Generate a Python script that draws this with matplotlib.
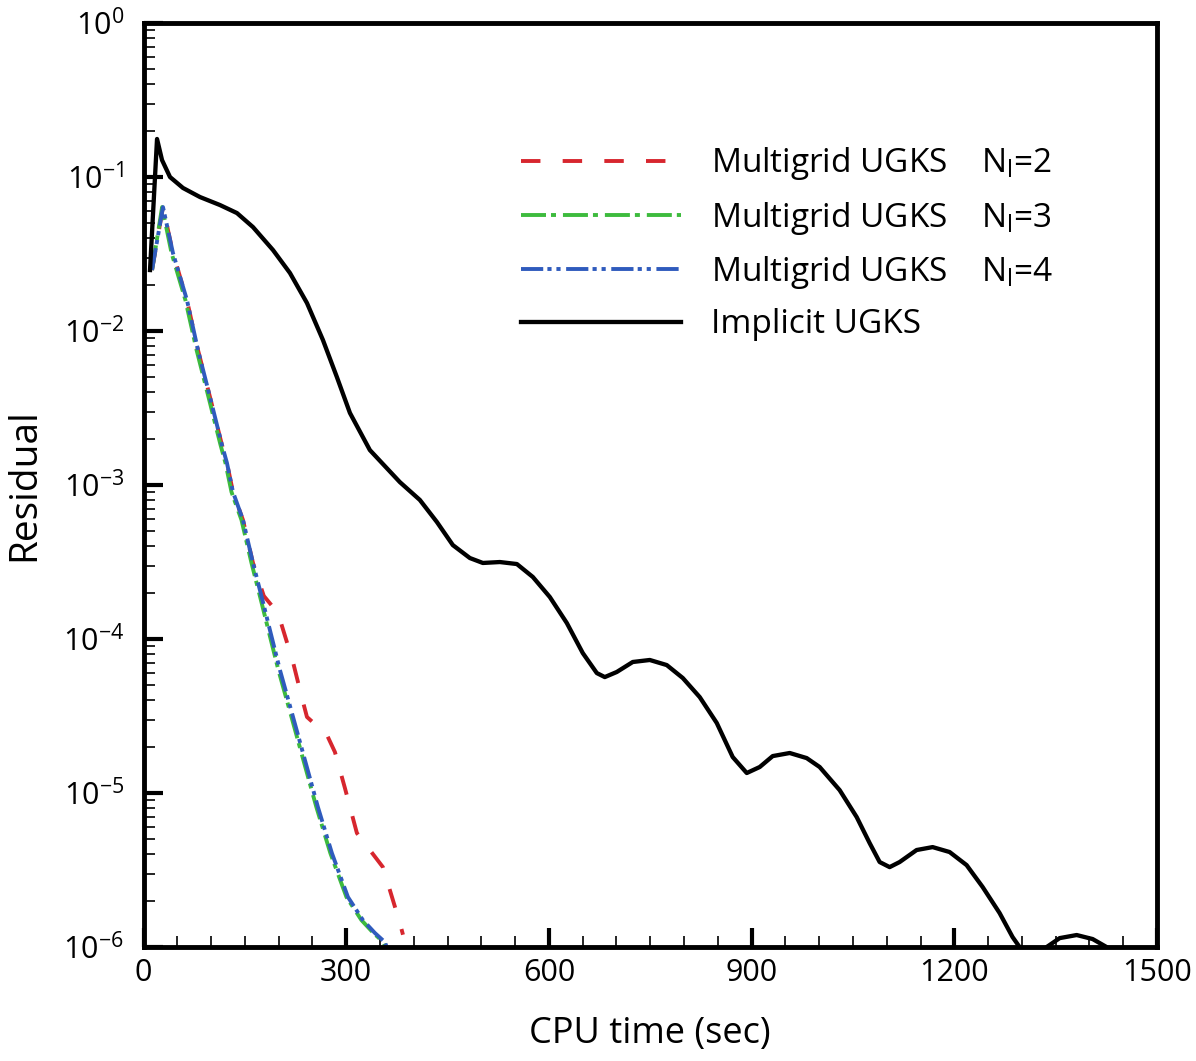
import numpy as np
import matplotlib
matplotlib.use("Agg")
import matplotlib.pyplot as plt
from matplotlib.ticker import FixedLocator, NullFormatter, LogFormatterMathtext

plt.rcParams["font.family"] = ["Open Sans", "DejaVu Sans"]
plt.rcParams["mathtext.default"] = "regular"
plt.rcParams["axes.unicode_minus"] = False
plt.rcParams["lines.scale_dashes"] = False

# ---- data (CPU time in sec, log10 of residual) ----
implicit_t = [9.6, 20, 27.4, 39.2, 58.4, 83.6, 113.2, 138.3, 162, 191.6, 216.7, 241.9,
              265.5, 286.2, 305.5, 335, 379.4, 409, 434.2, 457.8, 483, 502.2, 527.4,
              552.6, 576.2, 601.3, 626.5, 650.1, 670.9, 682.7, 700.4, 724.1, 749.3,
              774.4, 798.1, 823.2, 848.4, 872.0, 892.8, 912, 931.2, 956.4, 981.5,
              1000.7, 1030.3, 1055.5, 1074.7, 1089.5, 1104.3, 1119.1, 1144.2, 1167.9,
              1193.0, 1218.2, 1241.9, 1267.0, 1286.2, 1296.6, 1315.8, 1326, 1336.7,
              1355.9, 1381.1, 1404.7, 1425.4, 1444]
implicit_logr = [-1.604, -0.753, -0.890, -1.000, -1.071, -1.130, -1.182, -1.234, -1.325,
                 -1.474, -1.623, -1.818, -2.058, -2.299, -2.532, -2.773, -2.981, -3.097,
                 -3.240, -3.390, -3.474, -3.506, -3.500, -3.513, -3.597, -3.727, -3.896,
                 -4.091, -4.221, -4.247, -4.214, -4.149, -4.136, -4.169, -4.253, -4.377,
                 -4.545, -4.766, -4.870, -4.831, -4.760, -4.740, -4.773, -4.831, -4.981,
                 -5.156, -5.325, -5.448, -5.481, -5.448, -5.370, -5.351, -5.383, -5.468,
                 -5.610, -5.779, -5.935, -6.0, -6.08, -6.09, -6.0, -5.942, -5.922, -5.948,
                 -6.0, -6.08]

mg4_t = [12.6, 28.8, 43.6, 64.3, 80.6, 98.4, 108.7, 116.1, 123.5, 132.4, 147.2, 162,
         176.8, 187.1, 201.9, 219.7, 238.9, 258.1, 278.8, 302.5, 324.7, 342.5, 357.2, 360]
mg4_logr = [-1.604, -1.195, -1.494, -1.799, -2.123, -2.429, -2.610, -2.740, -2.857,
            -3.045, -3.227, -3.506, -3.760, -3.942, -4.201, -4.481, -4.786, -5.091,
            -5.390, -5.675, -5.825, -5.909, -5.968, -6.0]

mg3_t = [12.6, 27.5, 41.5, 62, 78.5, 96.2, 106.5, 114, 121.3, 130.2, 145, 159.8,
         174.5, 184.8, 199.6, 217.4, 236.6, 255.8, 276.5, 300.3, 322.5, 340.3, 355, 358]
mg3_logr = mg4_logr

mg2_t = [12.6, 28.8, 43.6, 64.3, 80.6, 98.4, 108.7, 116.1, 123.5, 132.4, 147.2, 162,
         178, 199.0, 221.2, 234.5, 241.9, 271.5, 283.3, 298.1, 315.8, 354.3, 379.4, 384]
mg2_logr = [-1.604, -1.195, -1.494, -1.799, -2.123, -2.429, -2.610, -2.740, -2.857,
            -3.045, -3.227, -3.506, -3.72, -3.831, -4.149, -4.383, -4.506, -4.623,
            -4.734, -4.968, -5.260, -5.481, -5.844, -5.92]

labels = ["Multigrid UGKS    N$_{l}$=2", "Multigrid UGKS    N$_{l}$=3",
          "Multigrid UGKS    N$_{l}$=4", "Implicit UGKS"]

fig = plt.figure(figsize=(11.96, 10.61), dpi=100)
ax = fig.add_axes([0.12, 0.1074, 0.8474, 0.8709])

ax.plot(mg2_t, 10 ** np.array(mg2_logr), color="#d7262e", lw=2.8, dashes=(14, 16), label=labels[0])
ax.plot(mg3_t, 10 ** np.array(mg3_logr), color="#3dbb3d", lw=2.8, dashes=(18, 3.6, 3.6, 5), label=labels[1])
ax.plot(mg4_t, 10 ** np.array(mg4_logr), color="#2f5bbd", lw=2.8,
        dashes=(16, 3, 3, 3.5, 3, 4), label=labels[2])
ax.plot(implicit_t, 10 ** np.array(implicit_logr), color="black", lw=3.1,
        solid_joinstyle="round", label=labels[3])

ax.set_yscale("log")
ax.set_xlim(0, 1500)
ax.set_ylim(1e-6, 1)
ax.xaxis.set_major_locator(FixedLocator(np.arange(0, 1501, 300)))
ax.xaxis.set_minor_locator(FixedLocator(np.arange(0, 1501, 50)))
decades = 10.0 ** np.arange(-6, 1)
ax.yaxis.set_major_locator(FixedLocator(decades))
ax.yaxis.set_major_formatter(LogFormatterMathtext())
ax.yaxis.set_minor_locator(FixedLocator(np.outer(decades[:-1], np.arange(2, 10)).ravel()))
ax.yaxis.set_minor_formatter(NullFormatter())

for s in ax.spines.values():
    s.set_linewidth(3.5)
ax.tick_params(which="major", direction="in", length=14, width=3, labelsize=22)
ax.tick_params(which="minor", direction="in", length=8, width=1.2)
ax.tick_params(axis="x", which="major", pad=8)
ax.tick_params(axis="y", which="major", pad=14)
ax.tick_params(top=False, right=False)

ax.set_xlabel("CPU time (sec)", fontsize=26, labelpad=20)
ax.set_ylabel("Residual", fontsize=28, labelpad=14)

ax.legend(loc="upper left", bbox_to_anchor=(0.359, 0.882), frameon=False, fontsize=24,
          handlelength=4.8, handletextpad=0.9, labelspacing=0.52, borderaxespad=0)

fig.savefig("out.png", dpi=100, facecolor="white")
